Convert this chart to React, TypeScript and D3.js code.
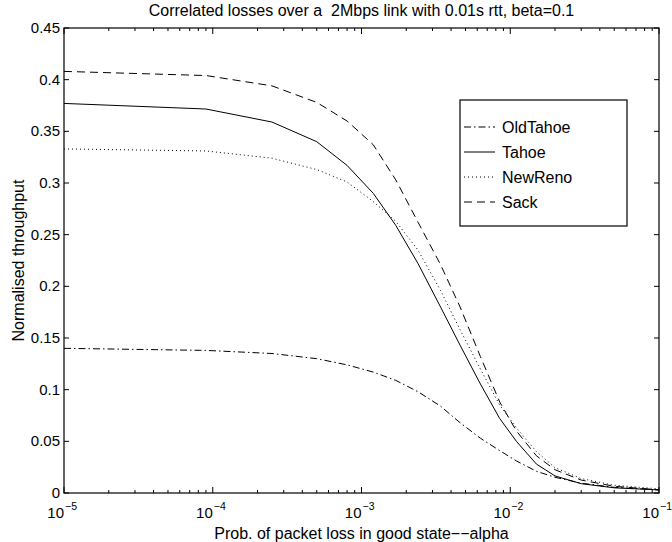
import React, {useEffect} from 'react';
import * as d3 from 'd3';

// sampled alpha values (shared x grid)
const alphas = [1e-5, 9e-5, 2.5e-4, 5e-4, 8e-4, 1.2e-3, 1.7e-3, 2.4e-3, 3.4e-3, 4.6e-3, 6.3e-3, 8.5e-3, 1.1e-2, 1.5e-2, 2e-2, 3e-2, 5e-2, 1e-1];

const oldTahoe = [0.140, 0.138, 0.135, 0.130, 0.124, 0.117, 0.109, 0.098, 0.084, 0.068, 0.053, 0.041, 0.031, 0.021, 0.0152, 0.0095, 0.0055, 0.003];
const tahoe = [0.377, 0.3716, 0.359, 0.340, 0.317, 0.290, 0.259, 0.222, 0.180, 0.143, 0.1055, 0.072, 0.050, 0.028, 0.0165, 0.009, 0.005, 0.003];
const newReno = [0.333, 0.331, 0.324, 0.313, 0.301, 0.282, 0.263, 0.235, 0.196, 0.158, 0.120, 0.085, 0.063, 0.040, 0.0245, 0.014, 0.0075, 0.004];
const sack = [0.408, 0.404, 0.394, 0.378, 0.360, 0.337, 0.303, 0.262, 0.221, 0.180, 0.132, 0.088, 0.060, 0.036, 0.0225, 0.0125, 0.0065, 0.003];

const seriesNames = ['OldTahoe', 'Tahoe', 'NewReno', 'Sack'];
const seriesValues = [oldTahoe, tahoe, newReno, sack];
const dashes = ['7,3,1.5,3', null, '1,3', '8,5'];

const yTicks = [0, 0.05, 0.1, 0.15, 0.2, 0.25, 0.3, 0.35, 0.4, 0.45];
const xDecades = [-5, -4, -3, -2, -1];

const W = 672, H = 542;
const left = 64, right = 659, top = 28, bottom = 493;
const font = 'Liberation Sans, Arial, Helvetica, sans-serif';

export default function App() {
    useEffect(() => {
        document.body.style.margin = '0';
    }, []);

    const x = d3.scaleLog().domain([1e-5, 1e-1]).range([left, right]);
    const y = d3.scaleLinear().domain([0, 0.45]).range([bottom, top]);

    const line = d3.line<number>()
        .x((d, i) => x(alphas[i]))
        .y(d => y(d));

    // minor ticks 2..9 in each decade
    const minor: number[] = [];
    xDecades.slice(0, -1).forEach(p => {
        for (let k = 2; k <= 9; k++) minor.push(k * Math.pow(10, p));
    });

    const legX = 460, legY = 100, legW = 167, legH = 126;

    return (
        <svg width={W} height={H} style={{display: 'block', background: '#fff'}} fontFamily={font}>
            <text x={(left + right) / 2} y={16} textAnchor="middle" fontSize={16} style={{whiteSpace: 'pre'}}>
                {'Correlated losses over a  2Mbps link with 0.01s rtt, beta=0.1'}
            </text>

            {/* curves */}
            <g fill="none" stroke="#000" strokeWidth={1}>
                {seriesValues.map((vals, i) => (
                    <path key={seriesNames[i]} d={line(vals) || ''} strokeDasharray={dashes[i] || undefined}/>
                ))}
            </g>

            {/* box */}
            <rect x={left} y={top} width={right - left} height={bottom - top} fill="none" stroke="#000" strokeWidth={1.2}/>

            {/* y ticks */}
            {yTicks.map(t => (
                <g key={'y' + t}>
                    <line x1={left} x2={left + 5} y1={y(t)} y2={y(t)} stroke="#000"/>
                    <line x1={right} x2={right - 5} y1={y(t)} y2={y(t)} stroke="#000"/>
                    <text x={left - 4} y={y(t) + 5} textAnchor="end" fontSize={15}>{String(t)}</text>
                </g>
            ))}

            {/* x ticks */}
            {xDecades.map(p => {
                const px = x(Math.pow(10, p));
                return (
                    <g key={'x' + p}>
                        <line x1={px} x2={px} y1={bottom} y2={bottom - 6} stroke="#000"/>
                        <line x1={px} x2={px} y1={top} y2={top + 6} stroke="#000"/>
                        <text x={px} y={518} textAnchor="end" fontSize={15}>10</text>
                        <text x={px + 1} y={510} textAnchor="start" fontSize={10.5}>{'\u2212' + (-p)}</text>
                    </g>
                );
            })}
            {minor.map(v => (
                <g key={'m' + v}>
                    <line x1={x(v)} x2={x(v)} y1={bottom} y2={bottom - 3} stroke="#000"/>
                    <line x1={x(v)} x2={x(v)} y1={top} y2={top + 3} stroke="#000"/>
                </g>
            ))}

            <text x={(left + right) / 2} y={539} textAnchor="middle" fontSize={16}>
                {'Prob. of packet loss in good state\u2212\u2212alpha'}
            </text>
            <text transform={`translate(24, ${(top + bottom) / 2}) rotate(-90)`} textAnchor="middle" fontSize={16}>
                Normalised throughput
            </text>

            {/* legend */}
            <rect x={legX} y={legY} width={legW} height={legH} fill="#fff" stroke="#000" strokeWidth={1.2}/>
            {seriesNames.map((name, i) => {
                const ly = legY + 27 + i * 25;
                return (
                    <g key={'leg' + name}>
                        <line x1={legX + 4} x2={legX + 35} y1={ly} y2={ly} stroke="#000" strokeDasharray={dashes[i] || undefined}/>
                        <text x={legX + 42} y={ly + 5.5} fontSize={16}>{name}</text>
                    </g>
                );
            })}
        </svg>
    );
}
